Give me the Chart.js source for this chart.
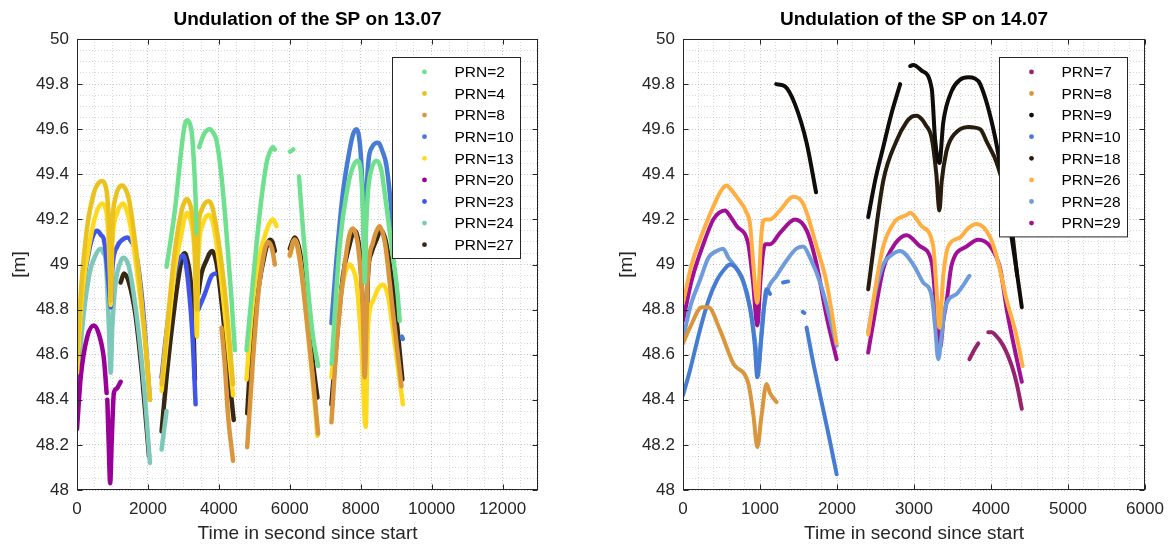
<!DOCTYPE html>
<html>
<head>
<meta charset="utf-8">
<script src="https://cdn.jsdelivr.net/npm/chart.js@4.4.1/dist/chart.umd.min.js"></script>
<style>
  html, body { margin: 0; padding: 0; background: #fff; }
  #wrap { position: relative; width: 1170px; height: 545px; }
  canvas { position: absolute; top: 0; }
  #c13 { left: 0; }
  #c14 { left: 585px; }
</style>
</head>
<body>
<div id="wrap">
  <canvas id="c13" width="585" height="545"></canvas>
  <canvas id="c14" width="585" height="545"></canvas>
</div>
<script>
// Undulation of the SP - two days, one curve per satellite (PRN)
// points are [time in s since start, undulation in m]; null = gap between passes

// ========== axes ==========
const yMajor = [48, 48.2, 48.4, 48.6, 48.8, 49, 49.2, 49.4, 49.6, 49.8, 50];
const xMajor13 = [0, 2000, 4000, 6000, 8000, 10000, 12000];
const xMajor14 = [0, 1000, 2000, 3000, 4000, 5000, 6000];

// ========== 13.07 ==========
const d13_prn2 = [
  [2525,48.99],[2760,49.24],[2950,49.52],[3040,49.62],[3110,49.64],[3180,49.625],[3240,49.58],[3305,49.43],[3345,49.29],[3370,49.14], null,
  [3445,49.52],[3530,49.56],[3605,49.585],[3745,49.6],[3860,49.58],[3935,49.55],[4075,49.39],[4215,49.14],[4360,48.84],[4450,48.62], null,
  [4780,48.62],[4965,48.93],[5155,49.23],[5345,49.45],[5440,49.5],[5530,49.52],[5580,49.51], null,
  [6010,49.5],[6100,49.51], null,
  [6260,49.39],[6375,49.15],[6515,48.89],[6655,48.68],[6800,48.55], null,
  [7180,48.56],[7410,49.09],[7640,49.35],[7800,49.44],[7925,49.46],[7990,49.43],[8040,49.33],[8080,49.15],[8115,48.92],[8150,49.15],[8210,49.33],[8300,49.42],[8445,49.46],[8580,49.42],[8675,49.32],[8865,49.09],[9040,48.87],[9100,48.75]
];
const d13_prn4 = [
  [0,48.58],[105,48.87],[290,49.17],[480,49.32],[600,49.36],[713,49.37],[800,49.35],[855,49.3],[900,49.18],[930,49.02],[950,48.84],[975,49.05],[995,49.17],[1090,49.3],[1180,49.34],[1277,49.35],[1380,49.33],[1465,49.29],[1700,49.02],[1890,48.72],[2057,48.4], null,
  [2385,48.47],[2570,48.77],[2760,49.06],[2950,49.24],[3040,49.28],[3110,49.29],[3180,49.27],[3230,49.24],[3290,49.15],[3325,49.06],[3380,48.8],[3415,49.14],[3510,49.24],[3600,49.27],[3700,49.28],[3780,49.27],[3840,49.24],[4030,49.06],[4215,48.81],[4400,48.47]
];
const d13_prn8 = [
  [4075,48.72],[4170,48.55],[4260,48.33],[4400,48.13], null,
  [4800,48.19],[4950,48.55],[5100,48.85],[5250,49.03],[5390,49.1],[5500,49.07],[5580,49.0], null,
  [6000,49.04],[6140,49.11],[6300,49.0],[6480,48.75],[6650,48.5],[6800,48.25], null,
  [7175,48.3],[7350,48.7],[7550,49.0],[7680,49.13],[7780,49.16],[7870,49.13],[7950,49.05],[8060,48.8],[8110,48.5],[8200,48.95],[8350,49.1],[8450,49.15],[8535,49.17],[8620,49.14],[8700,49.08],[8900,48.8],[9150,48.46]
];
const d13_prn10 = [
  [7175,48.74],[7315,49.02],[7500,49.32],[7690,49.51],[7790,49.58],[7880,49.6],[7950,49.57],[8010,49.47],[8060,49.3],[8115,49.02],[8160,49.3],[8220,49.46],[8320,49.52],[8490,49.54],[8620,49.5],[8725,49.44],[8865,49.24],[8950,49.05], null,
  [9160,48.68],[9190,48.67]
];
const d13_prn13 = [
  [0,48.52],[150,48.87],[385,49.12],[550,49.23],[713,49.27],[800,49.25],[855,49.2],[930,48.95],[950,48.82],[995,49.09],[1135,49.23],[1220,49.26],[1305,49.27],[1400,49.24],[1510,49.17],[1745,48.9],[1935,48.64],[2057,48.4], null,
  [2385,48.44],[2570,48.71],[2760,48.98],[2950,49.14],[3040,49.21],[3110,49.23],[3180,49.21],[3230,49.18],[3325,49.02],[3380,48.68],[3415,49.02],[3550,49.18],[3630,49.21],[3700,49.22],[3780,49.21],[3840,49.18],[4030,48.98],[4215,48.71],[4400,48.42], null,
  [4780,48.49],[4920,48.77],[5110,49.01],[5345,49.15],[5450,49.19],[5530,49.2],[5625,49.17], null,
  [6000,49.04],[6140,49.11],[6280,49.03],[6470,48.77],[6655,48.47],[6780,48.24], null,
  [7175,48.5],[7315,48.72],[7500,48.92],[7600,48.98],[7690,49.0],[7780,48.98],[7880,48.92],[8020,48.65],[8140,48.28],[8205,48.72],[8350,48.84],[8500,48.895],[8630,48.91],[8770,48.86],[8960,48.65],[9190,48.38]
];
const d13_prn20 = [
  [0,48.27],[105,48.5],[290,48.68],[480,48.73],[620,48.69],[760,48.58],[835,48.43], null,
  [855,48.4],[895,48.2],[935,48.03],[980,48.22],[1040,48.43],[1120,48.45],[1230,48.48]
];
const d13_prn23 = [
  [0,48.5],[105,48.8],[340,49.06],[460,49.13],[573,49.15],[680,49.13],[760,49.11],[900,48.9],[950,48.81],[995,48.98],[1135,49.08],[1280,49.11],[1417,49.12],[1540,49.1],[1650,49.06],[1840,48.84],[2057,48.4], null,
  [2385,48.5],[2525,48.7],[2715,48.92],[2900,49.03],[2995,49.04],[3070,49.0],[3135,48.92],[3250,48.7],[3345,48.38], null,
  [3420,48.8],[3605,48.87],[3795,48.95],[3890,48.96]
];
const d13_prn24 = [
  [0,48.33],[105,48.64],[340,48.95],[520,49.04],[670,49.07],[750,49.05],[810,49.02],[900,48.72],[950,48.52],[995,48.72],[1090,48.92],[1200,49.0],[1305,49.03],[1390,49.02],[1465,48.99],[1700,48.75],[1890,48.46],[2057,48.12], null,
  [2385,48.18],[2525,48.35]
];
const d13_prn27 = [
  [1230,48.92],[1325,48.96],[1465,48.92],[1655,48.77],[1840,48.5],[2030,48.15], null,
  [2385,48.26],[2525,48.5],[2715,48.77],[2900,48.98],[2980,49.04],[3040,49.05],[3110,49.02],[3180,48.96],[3275,48.77],[3325,48.49], null,
  [3420,48.87],[3510,48.96],[3655,49.02],[3740,49.05],[3810,49.06],[3900,49.03],[3980,48.96],[4120,48.77],[4260,48.55],[4420,48.31], null,
  [4800,48.34],[4920,48.64],[5110,48.89],[5300,49.05],[5370,49.09],[5440,49.11],[5510,49.1],[5580,49.06], null,
  [6000,49.07],[6140,49.12],[6280,49.06],[6470,48.83],[6655,48.56],[6780,48.41], null,
  [7175,48.38],[7315,48.65],[7500,48.95],[7690,49.09],[7760,49.13],[7830,49.15],[7900,49.13],[7970,49.06],[8065,48.8],[8140,48.5],[8205,48.95],[8300,49.05],[8445,49.11],[8520,49.14],[8585,49.15],[8680,49.12],[8770,49.05],[8960,48.83],[9175,48.49]
];

// ========== 14.07 ==========
const d14_prn7 = [
  [3720,48.58],[3780,48.62],[3835,48.65], null,
  [3965,48.7],[4010,48.7],[4050,48.69],[4160,48.64],[4270,48.55],[4335,48.47],[4400,48.36]
];
const d14_prn8 = [
  [0,48.65],[90,48.72],[245,48.81],[330,48.81],[480,48.71],[655,48.56],[850,48.47],[915,48.33],[965,48.19],[1020,48.33],[1085,48.47],[1130,48.43],[1215,48.39]
];
const d14_prn9 = [
  [1210,49.8],[1325,49.79],[1455,49.71],[1605,49.54],[1728,49.32], null,
  [2405,49.21],[2500,49.38],[2600,49.52],[2700,49.66],[2820,49.8], null,
  [2950,49.88],[2990,49.885],[3100,49.86],[3230,49.78],[3275,49.55],[3330,49.45],[3380,49.63],[3490,49.77],[3600,49.82],[3705,49.83],[3790,49.825],[3860,49.8],[4050,49.57],[4205,49.26],[4330,48.98],[4400,48.81]
];
const d14_prn10 = [
  [0,48.42],[90,48.53],[220,48.71],[330,48.84],[440,48.93],[540,48.98],[610,49.0],[675,48.99],[780,48.93],[870,48.81],[930,48.65],[965,48.5],[1022,48.69],[1085,48.89],[1130,48.87], null,
  [1300,48.92],[1365,48.925], null,
  [1555,48.79],[1575,48.785], null,
  [1605,48.72],[1700,48.55],[1800,48.39],[1900,48.23],[1995,48.07]
];
const d14_prn18 = [
  [2405,48.89],[2470,49.06],[2600,49.37],[2775,49.55],[2900,49.63],[2970,49.655],[3035,49.66],[3100,49.645],[3150,49.62],[3230,49.56],[3290,49.4],[3330,49.24],[3360,49.37],[3420,49.5],[3470,49.55],[3600,49.6],[3705,49.61],[3860,49.6],[3950,49.54],[4075,49.45],[4250,49.21],[4340,48.95]
];
const d14_prn26 = [
  [0,48.83],[113,49.0],[264,49.15],[437,49.29],[500,49.33],[567,49.35],[630,49.33],[697,49.3],[827,49.23],[870,49.18],[913,49.0],[965,48.83],[1022,49.15],[1065,49.2],[1130,49.2],[1260,49.24],[1430,49.3],[1560,49.27],[1735,49.08],[1865,48.92],[1995,48.65], null,
  [2405,48.69],[2500,48.9],[2600,49.08],[2750,49.19],[2905,49.22],[2950,49.23],[3100,49.17],[3250,49.08],[3290,48.9],[3330,48.72],[3380,48.95],[3445,49.08],[3600,49.12],[3700,49.16],[3815,49.18],[3990,49.12],[4100,49.0],[4205,48.84],[4320,48.7],[4410,48.55]
];
const d14_prn28 = [
  [0,48.67],[100,48.82],[220,48.93],[330,49.03],[437,49.06],[520,49.07],[590,49.03],[700,48.98],[785,48.92],[890,48.77],[940,48.65],[980,48.55],[1030,48.75],[1085,48.87],[1215,48.95],[1350,49.02],[1470,49.07],[1560,49.08],[1650,49.03],[1800,48.9],[1900,48.77],[1995,48.64], null,
  [2405,48.7],[2500,48.88],[2600,49.0],[2700,49.04],[2820,49.06],[2990,49.0],[3120,48.92],[3230,48.86],[3275,48.72],[3315,48.58],[3360,48.69],[3405,48.81],[3555,48.87],[3720,48.95]
];
const d14_prn29 = [
  [0,48.75],[113,48.93],[264,49.09],[394,49.2],[470,49.23],[545,49.24],[620,49.21],[697,49.17],[848,49.09],[910,48.92],[965,48.73],[1010,48.95],[1065,49.09],[1130,49.09],[1260,49.14],[1455,49.2],[1607,49.15],[1735,49.0],[1865,48.77],[1995,48.58], null,
  [2405,48.61],[2500,48.8],[2600,48.98],[2750,49.09],[2905,49.13],[3080,49.08],[3230,49.01],[3290,48.8],[3340,48.63],[3380,48.75],[3425,48.84],[3490,49.0],[3685,49.08],[3835,49.11],[3990,49.08],[4120,48.98],[4205,48.8],[4310,48.62],[4400,48.48]
];

// ========== series (legend order = draw order) ==========
const series13 = [
  { label: 'PRN=2',  pts: d13_prn2,  color: '#6fe08e' },
  { label: 'PRN=4',  pts: d13_prn4,  color: '#ebc11e' },
  { label: 'PRN=8',  pts: d13_prn8,  color: '#d9963c' },
  { label: 'PRN=10', pts: d13_prn10, color: '#467dd2' },
  { label: 'PRN=13', pts: d13_prn13, color: '#ffd91e' },
  { label: 'PRN=20', pts: d13_prn20, color: '#990099' },
  { label: 'PRN=23', pts: d13_prn23, color: '#4155eb' },
  { label: 'PRN=24', pts: d13_prn24, color: '#7dc8b8' },
  { label: 'PRN=27', pts: d13_prn27, color: '#372814' }
];
const series14 = [
  { label: 'PRN=7',  pts: d14_prn7,  color: '#96236e' },
  { label: 'PRN=8',  pts: d14_prn8,  color: '#d9963c' },
  { label: 'PRN=9',  pts: d14_prn9,  color: '#0f0c0a' },
  { label: 'PRN=10', pts: d14_prn10, color: '#467dd2' },
  { label: 'PRN=18', pts: d14_prn18, color: '#281c0f' },
  { label: 'PRN=26', pts: d14_prn26, color: '#ffaf41' },
  { label: 'PRN=28', pts: d14_prn28, color: '#6e9bdc' },
  { label: 'PRN=29', pts: d14_prn29, color: '#a00f96' }
];

// ========== helpers ==========
Chart.defaults.font.family = '"Liberation Sans", Arial, Helvetica, sans-serif';
Chart.defaults.color = '#262626';

const isMajor = (v, majors) => majors.some(m => Math.abs(m - v) < 1e-6);

function stepTicks(min, max, step) {
  const out = [];
  const n = Math.round((max - min) / step);
  for (let i = 0; i <= n; i++) out.push(+(min + i * step).toFixed(4));
  return out;
}

function toXY(pts) {
  return pts.map((p, i) => p ? { x: p[0], y: p[1] } : { x: pts[i - 1][0], y: null });
}

// MATLAB-like axes box, inward ticks, boxed legend and title
const matlabAxes = {
  id: 'matlabAxes',
  afterDatasetsDraw(chart) {
    const { ctx, chartArea: a } = chart;
    const sets = chart.data.datasets;
    const w = 128, h = sets.length * 21.6 + 6.6;
    const bx = Math.round(a.right - 18 - w) + 0.5;
    const by = Math.round(a.top + 18) + 0.5;
    ctx.save();
    ctx.fillStyle = '#fff';
    ctx.fillRect(bx, by, w, h);
    ctx.strokeStyle = '#262626';
    ctx.lineWidth = 1;
    ctx.strokeRect(bx, by, w, h);
    ctx.font = '15.5px "Liberation Sans", Arial, sans-serif';
    ctx.textBaseline = 'middle';
    ctx.textAlign = 'left';
    sets.forEach((ds, i) => {
      const y = by + 14.4 + i * 21.6;
      ctx.fillStyle = ds.borderColor;
      ctx.beginPath();
      ctx.arc(bx + 32, y, 2.4, 0, Math.PI * 2);
      ctx.fill();
      ctx.fillStyle = '#000';
      ctx.fillText(ds.label, bx + 62, y + 1);
    });
    ctx.restore();
  },
  afterDraw(chart, args, opts) {
    const { ctx, chartArea: a, scales: { x, y } } = chart;
    const L = Math.round(a.left) + 0.5, R = Math.round(a.right) - 0.5;
    const T = Math.round(a.top) + 0.5, B = Math.round(a.bottom) - 0.5;
    ctx.save();
    ctx.strokeStyle = '#262626';
    ctx.lineWidth = 1;
    ctx.strokeRect(L, T, R - L, B - T);
    ctx.beginPath();
    opts.xMajor.forEach(v => {
      const px = Math.round(x.getPixelForValue(v)) + 0.5;
      ctx.moveTo(px, B); ctx.lineTo(px, B - 5);
      ctx.moveTo(px, T); ctx.lineTo(px, T + 5);
    });
    yMajor.forEach(v => {
      const py = Math.round(y.getPixelForValue(v)) + 0.5;
      ctx.moveTo(L, py); ctx.lineTo(L + 5, py);
      ctx.moveTo(R, py); ctx.lineTo(R - 5, py);
    });
    ctx.stroke();
    ctx.fillStyle = '#000';
    ctx.font = 'bold 19px "Liberation Sans", Arial, sans-serif';
    ctx.textAlign = 'center';
    ctx.textBaseline = 'middle';
    ctx.fillText(opts.title, (a.left + a.right) / 2, 20);
    ctx.restore();
  }
};

function gridColor(majors) {
  return c => (c.tick && isMajor(c.tick.value, majors)) ? 'rgba(0,0,0,0.22)' : 'rgba(0,0,0,0.15)';
}

function buildChart(id, cfg) {
  const ySteps = stepTicks(48, 50, 0.05);
  const xSteps = stepTicks(0, cfg.xMax, cfg.xStep);
  return new Chart(document.getElementById(id), {
    type: 'line',
    data: {
      datasets: cfg.series.map(s => ({
        label: s.label,
        data: toXY(s.pts),
        borderColor: s.color,
        backgroundColor: s.color,
        borderWidth: cfg.lineWidth,
        pointRadius: 0,
        cubicInterpolationMode: 'monotone',
        spanGaps: false,
        fill: false,
        borderCapStyle: 'round',
        borderJoinStyle: 'round'
      }))
    },
    options: {
      responsive: false,
      animation: false,
      devicePixelRatio: 1,
      layout: { padding: { top: 39, right: cfg.padRight, left: 0, bottom: 0 } },
      plugins: {
        legend: { display: false },
        tooltip: { enabled: false },
        matlabAxes: { title: cfg.title, xMajor: cfg.xMajor }
      },
      scales: {
        x: {
          type: 'linear',
          min: 0,
          max: cfg.xMax,
          afterBuildTicks: s => { s.ticks = xSteps.map(v => ({ value: v })); },
          afterFit: s => { s.height = 55; s.paddingLeft = 0; s.paddingRight = 0; },
          ticks: {
            autoSkip: false,
            maxRotation: 0,
            padding: 9,
            color: '#262626',
            font: { size: 17 },
            callback: v => isMajor(v, cfg.xMajor) ? String(Math.round(v)) : ''
          },
          grid: { drawTicks: false, color: gridColor(cfg.xMajor), lineWidth: 1 },
          border: { display: false, dash: [1, 2] },
          title: {
            display: true,
            text: 'Time in second since start',
            color: '#262626',
            font: { size: 19 },
            padding: { top: 0, bottom: 0 }
          }
        },
        y: {
          type: 'linear',
          min: 48,
          max: 50,
          afterBuildTicks: s => { s.ticks = ySteps.map(v => ({ value: v })); },
          afterFit: s => { s.width = cfg.yWidth; s.paddingTop = 0; s.paddingBottom = 0; },
          ticks: {
            autoSkip: false,
            padding: 8,
            color: '#262626',
            font: { size: 17 },
            callback: v => isMajor(v, yMajor) ? String(Math.round(v * 10) / 10) : ''
          },
          grid: { drawTicks: false, color: gridColor(yMajor), lineWidth: 1 },
          border: { display: false, dash: [1, 2] },
          title: {
            display: true,
            text: '[m]',
            color: '#262626',
            font: { size: 19 },
            padding: { top: cfg.yTitlePad, bottom: 0 }
          }
        }
      }
    },
    plugins: [matlabAxes]
  });
}

// ========== render ==========
buildChart('c13', {
  title: 'Undulation of the SP on 13.07',
  series: series13,
  xMax: 13000, xStep: 500, xMajor: xMajor13,
  yWidth: 77, padRight: 47, yTitlePad: 8, lineWidth: 4.5
});
buildChart('c14', {
  title: 'Undulation of the SP on 14.07',
  series: series14,
  xMax: 6000, xStep: 200, xMajor: xMajor14,
  yWidth: 98, padRight: 25, yTitlePad: 30, lineWidth: 4
});
</script>
</body>
</html>
